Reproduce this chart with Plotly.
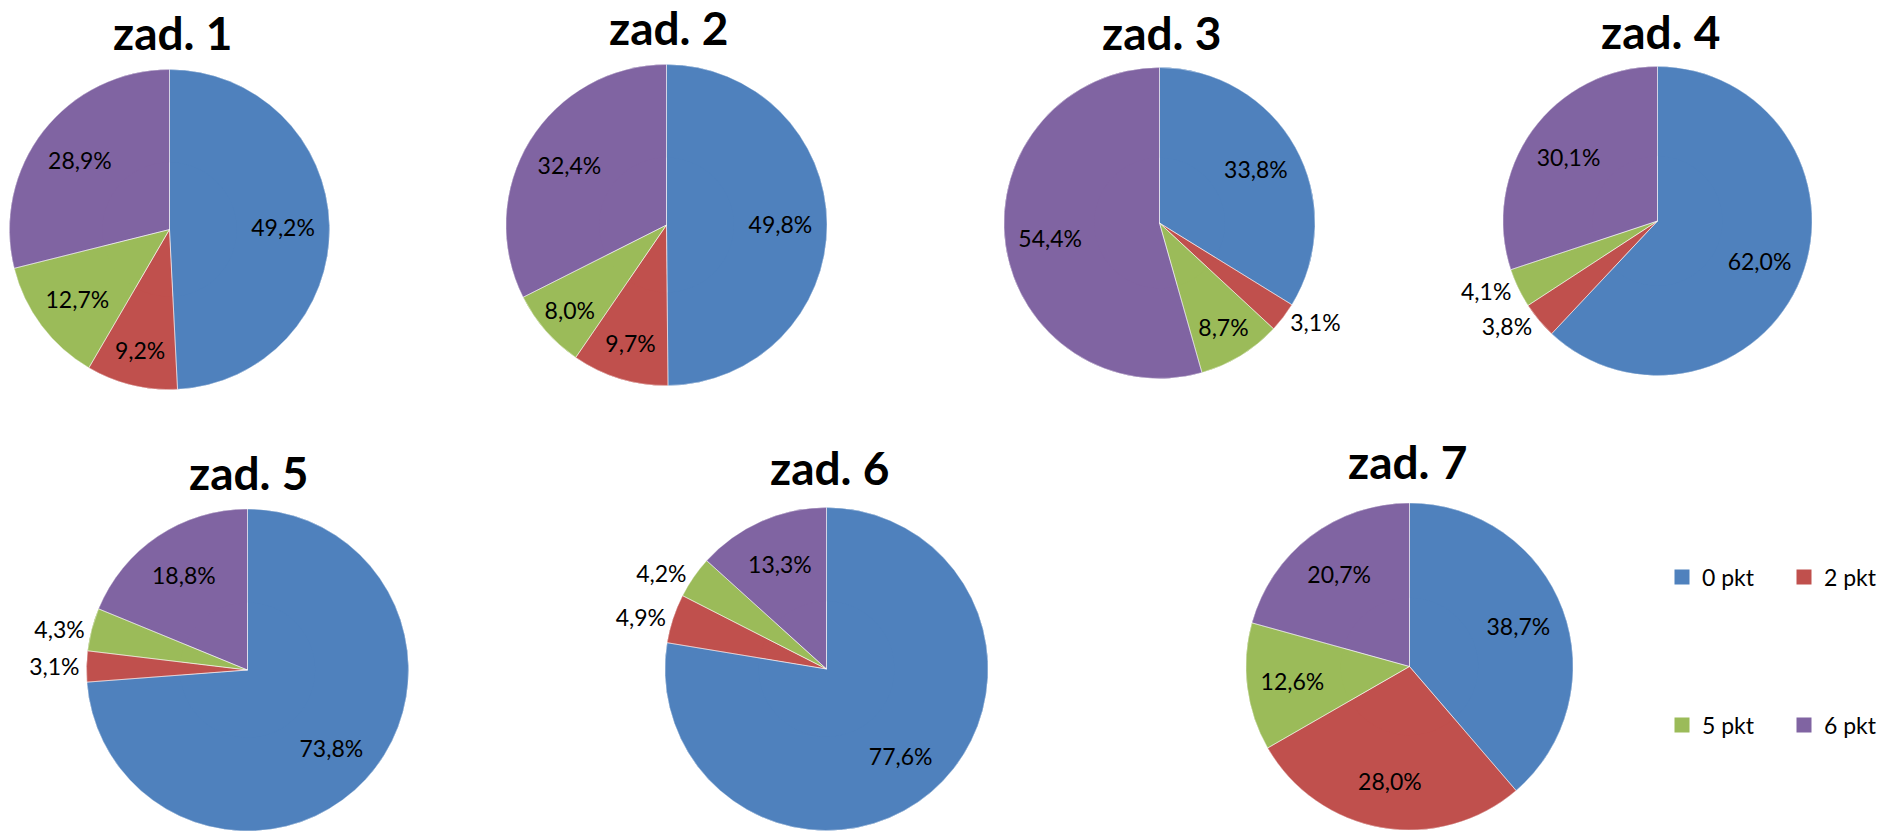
import plotly.graph_objects as go

W, H = 1881, 831

categories = ["0 pkt", "2 pkt", "5 pkt", "6 pkt"]
titles = ["zad. 1", "zad. 2", "zad. 3", "zad. 4", "zad. 5", "zad. 6", "zad. 7"]
zad1 = [49.2, 9.2, 12.7, 28.9]
zad2 = [49.8, 9.7, 8.0, 32.4]
zad3 = [33.8, 3.1, 8.7, 54.4]
zad4 = [62.0, 3.8, 4.1, 30.1]
zad5 = [73.8, 3.1, 4.3, 18.8]
zad6 = [77.6, 4.9, 4.2, 13.3]
zad7 = [38.7, 28.0, 12.6, 20.7]
series = [zad1, zad2, zad3, zad4, zad5, zad6, zad7]

colors = ["#4F81BD", "#C0504D", "#9BBB59", "#8064A2"]

# layout: pie centre (px), radius (px), title centre (px)
pie_geom = [
    (169.5, 229.5, 160.0),
    (666.5, 225.0, 160.5),
    (1159.5, 223.0, 155.5),
    (1657.5, 221.0, 154.5),
    (247.5, 670.0, 161.0),
    (826.5, 669.0, 161.5),
    (1409.5, 666.5, 163.5),
]
title_pos = [
    (172, 32), (668, 27), (1161, 32), (1660, 31),
    (249, 472), (829, 467), (1407, 461),
]

FONT = "Lato"
LABEL_SIZE = 23

fig = go.Figure()

common = dict(labels=categories, sort=False, direction="clockwise", rotation=0,
              showlegend=False)

for vals, (cx, cy, r) in zip(series, pie_geom):
    dom = dict(x=[(cx - r) / W, (cx + r) / W],
               y=[1 - (cy + r) / H, 1 - (cy - r) / H])
    txt = [f"{v:.1f}".replace(".", ",") + "%" for v in vals]
    pos = ["outside" if v < 5 else "inside" for v in vals]
    # full pie (slices)
    fig.add_trace(go.Pie(
        values=vals, domain=dom, textinfo="none",
        marker=dict(colors=colors, line=dict(width=0)),
        hoverinfo="skip", **common,
    ))
    # ring on top of it carrying the data labels (places them at ~0.7 r)
    fig.add_trace(go.Pie(
        values=vals, domain=dom, hole=0.42,
        text=txt, textinfo="text", textposition=pos,
        insidetextorientation="horizontal",
        textfont=dict(family=FONT, size=LABEL_SIZE, color="black"),
        marker=dict(colors=colors, line=dict(width=0)),
        hovertemplate="%{label}: %{text}<extra></extra>", **common,
    ))
    # thin slice borders
    fig.add_trace(go.Pie(
        values=vals, domain=dom, textinfo="none",
        marker=dict(colors=["rgba(0,0,0,0)"] * 4,
                    line=dict(color="rgba(255,255,255,0.55)", width=0.8)),
        hoverinfo="skip", **common,
    ))

# legend entries (two rows, as in the reference)
legend_of = ["legend", "legend", "legend2", "legend2"]
for cat, col, lg in zip(categories, colors, legend_of):
    fig.add_trace(go.Scatter(
        x=[None], y=[None], mode="markers", name=cat,
        marker=dict(symbol="square", size=15, color=col),
        legend=lg, showlegend=True, hoverinfo="skip",
    ))

annotations = []
for t, (tx, ty) in zip(titles, title_pos):
    annotations.append(dict(
        text=f"<b>{t}</b>", x=tx / W, y=1 - ty / H, xref="paper", yref="paper",
        xanchor="center", yanchor="middle", showarrow=False,
        font=dict(family=FONT, size=46, color="black"),
    ))

legend_common = dict(
    orientation="h", xanchor="left", yanchor="middle",
    font=dict(family=FONT, size=LABEL_SIZE, color="black"),
    bgcolor="rgba(0,0,0,0)", entrywidth=77, entrywidthmode="pixels",
    itemclick=False, itemdoubleclick=False,
)

fig.update_layout(
    width=W, height=H,
    template="none",
    paper_bgcolor="white", plot_bgcolor="white",
    margin=dict(l=0, r=0, t=0, b=0, autoexpand=False),
    uniformtext=dict(minsize=LABEL_SIZE, mode="show"),
    annotations=annotations,
    xaxis=dict(visible=False), yaxis=dict(visible=False),
    legend=dict(x=1662 / W, y=1 - 577 / H, **legend_common),
    legend2=dict(x=1662 / W, y=1 - 725 / H, **legend_common),
    showlegend=True,
)

fig.write_html(
    "out.html",
    config={"displayModeBar": False},
    post_script="document.body.style.margin='0';document.body.style.overflow='hidden';",
)
